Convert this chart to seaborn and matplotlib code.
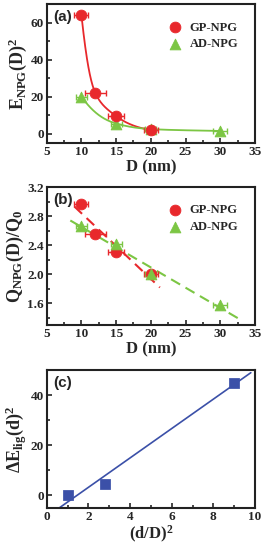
import matplotlib
matplotlib.use("Agg")
import matplotlib.pyplot as plt
from matplotlib.ticker import MultipleLocator
import numpy as np
import pandas as pd
import seaborn as sns

# panel (a) / (b): pore size D (nm)
gp_D = [10, 12, 15, 20]
gp_Derr = [1.0, 1.5, 1.1, 1.0]
gp_E = [64, 22, 9.5, 2.0]
gp_Q = [2.97, 2.55, 2.30, 2.00]

ad_D = [10, 15, 20, 30]
ad_Derr = [0.8, 0.8, 0.8, 1.0]
ad_E = [20, 5.5, 2.5, 1.5]
ad_Q = [2.66, 2.42, 2.00, 1.57]

# panel (c)
ratio_sq = [1.0, 2.8, 9.0]
dE_lig = [0.0, 4.5, 45.0]

RED = "#e8282c"
GREEN = "#7cc644"
BLUE = "#3b50a8"

sns.set_style("ticks")
plt.rcParams["font.family"] = ["Liberation Serif", "DejaVu Serif"]
plt.rcParams["font.weight"] = "bold"
plt.rcParams["mathtext.fontset"] = "custom"
plt.rcParams["mathtext.rm"] = "Liberation Serif:bold"
plt.rcParams["mathtext.it"] = "Liberation Serif:bold"
plt.rcParams["mathtext.bf"] = "Liberation Serif:bold"
plt.rcParams["axes.linewidth"] = 1.5
plt.rcParams["axes.edgecolor"] = "#222222"
plt.rcParams["xtick.direction"] = "in"
plt.rcParams["ytick.direction"] = "in"

fig = plt.figure(figsize=(2.66, 5.5), dpi=100)
ax1 = fig.add_axes([0.1756, 0.74, 0.783, 0.2527])
ax2 = fig.add_axes([0.1756, 0.409, 0.783, 0.251])
ax3 = fig.add_axes([0.1756, 0.0764, 0.783, 0.2509])

gp = pd.DataFrame({"D": gp_D, "err": gp_Derr, "E": gp_E, "Q": gp_Q, "kind": "GP-NPG"})
ad = pd.DataFrame({"D": ad_D, "err": ad_Derr, "E": ad_E, "Q": ad_Q, "kind": "AD-NPG"})


def guide_curve(x, y, n=200):
    # monotone cubic (Fritsch-Carlson) guide line through the points
    x = np.asarray(x, float)
    y = np.log(np.asarray(y, float))
    h = np.diff(x)
    d = np.diff(y) / h
    m = np.zeros_like(x)
    m[0], m[-1] = d[0], d[-1]
    for i in range(1, len(x) - 1):
        if d[i - 1] * d[i] > 0:
            w1 = 2 * h[i] + h[i - 1]
            w2 = h[i] + 2 * h[i - 1]
            m[i] = (w1 + w2) / (w1 / d[i - 1] + w2 / d[i])
    xs = np.linspace(x[0], x[-1], n)
    k = np.clip(np.searchsorted(x, xs) - 1, 0, len(x) - 2)
    t = (xs - x[k]) / h[k]
    h00 = 2 * t**3 - 3 * t**2 + 1
    h10 = t**3 - 2 * t**2 + t
    h01 = -2 * t**3 + 3 * t**2
    h11 = t**3 - t**2
    ys = h00 * y[k] + h10 * h[k] * m[k] + h01 * y[k + 1] + h11 * h[k] * m[k + 1]
    return xs, np.exp(ys)


# ---- (a)
xs, ys = guide_curve(gp.D, gp.E)
sns.lineplot(x=xs, y=ys, color=RED, lw=1.3, ax=ax1)
xs, ys = guide_curve(ad.D, ad.E)
sns.lineplot(x=xs, y=ys, color=GREEN, lw=1.3, ax=ax1)
ax1.errorbar(gp.D, gp.E, xerr=gp.err, fmt="none", ecolor=RED, capsize=2.5, lw=1)
ax1.errorbar(ad.D, ad.E, xerr=ad.err, fmt="none", ecolor=GREEN, capsize=2.5, lw=1)
sns.scatterplot(data=ad, x="D", y="E", marker="^", color=GREEN, s=60, edgecolor=GREEN,
                label="AD-NPG", ax=ax1, zorder=3)
sns.scatterplot(data=gp, x="D", y="E", marker="o", color=RED, s=60, edgecolor=RED,
                label="GP-NPG", ax=ax1, zorder=4)
ax1.set_xlim(5, 35)
ax1.set_ylim(-5, 70)
ax1.yaxis.set_major_locator(MultipleLocator(20))
ax1.yaxis.set_minor_locator(MultipleLocator(10))
ax1.set_ylabel(r"$\mathrm{E_{NPG}(D)^2}$", fontsize=13, labelpad=1)

# ---- (b)
for df, col, x0, x1 in [(gp, RED, 9.0, 21.3), (ad, GREEN, 8.4, 33)]:
    k, b = np.polyfit(df.D, df.Q, 1)
    xs = np.array([x0, x1])
    ax2.plot(xs, k * xs + b, color=col, ls=(0, (5, 3)), lw=1.5)
ax2.errorbar(gp.D, gp.Q, xerr=gp.err, fmt="none", ecolor=RED, capsize=2.5, lw=1)
ax2.errorbar(ad.D, ad.Q, xerr=ad.err, fmt="none", ecolor=GREEN, capsize=2.5, lw=1)
sns.scatterplot(data=gp, x="D", y="Q", marker="o", color=RED, s=60, edgecolor=RED,
                label="GP-NPG", ax=ax2, zorder=3)
sns.scatterplot(data=ad, x="D", y="Q", marker="^", color=GREEN, s=60, edgecolor=GREEN,
                label="AD-NPG", ax=ax2, zorder=4)
ax2.set_xlim(5, 35)
ax2.set_ylim(1.3, 3.2)
ax2.yaxis.set_major_locator(MultipleLocator(0.4))
ax2.yaxis.set_minor_locator(MultipleLocator(0.2))
ax2.set_ylabel(r"$\mathrm{Q_{NPG}(D)/Q_0}$", fontsize=13, labelpad=1)

for ax, tag in [(ax1, "(a)"), (ax2, "(b)")]:
    ax.xaxis.set_major_locator(MultipleLocator(5))
    ax.xaxis.set_minor_locator(MultipleLocator(2.5))
    ax.set_xlabel("D (nm)", fontsize=12, fontweight="bold", labelpad=1)
    hh, ll = ax.get_legend_handles_labels()
    order = [ll.index("GP-NPG"), ll.index("AD-NPG")]
    ax.legend([hh[i] for i in order], [ll[i] for i in order], loc="upper left",
              frameon=False, fontsize=9, handletextpad=0.2, borderaxespad=0.0,
              labelspacing=0.35, bbox_to_anchor=(0.53, 0.91))
    ax.text(0.03, 0.96, tag, transform=ax.transAxes, ha="left", va="top",
            fontsize=11, fontweight="bold", family="Liberation Sans")

# ---- (c)
k, b = np.polyfit(ratio_sq, dE_lig, 1)
xs = np.linspace(0.6, 9.8, 50)
sns.lineplot(x=xs, y=k * xs + b, color=BLUE, lw=1.2, ax=ax3)
sns.scatterplot(x=ratio_sq, y=dE_lig, marker="s", color=BLUE, s=45, edgecolor=BLUE,
                ax=ax3, zorder=3)
ax3.set_xlim(0, 10)
ax3.set_ylim(-5, 50)
ax3.xaxis.set_major_locator(MultipleLocator(2))
ax3.xaxis.set_minor_locator(MultipleLocator(1))
ax3.yaxis.set_major_locator(MultipleLocator(20))
ax3.yaxis.set_minor_locator(MultipleLocator(10))
ax3.set_xlabel(r"$\mathrm{(d/D)^2}$", fontsize=12, labelpad=1)
ax3.set_ylabel(r"$\mathrm{\Delta E_{lig}(d)^2}$", fontsize=13, labelpad=1)
ax3.text(0.03, 0.96, "(c)", transform=ax3.transAxes, ha="left", va="top",
         fontsize=11, fontweight="bold", family="Liberation Sans")

for ax in (ax1, ax2, ax3):
    ax.tick_params(which="both", top=False, right=False, labelsize=9.5, width=1.2, pad=2)
    ax.tick_params(which="major", length=3.5)
    ax.tick_params(which="minor", length=2)
    for lab in ax.get_xticklabels() + ax.get_yticklabels():
        lab.set_fontweight("bold")

fig.savefig("out.png", dpi=100)
